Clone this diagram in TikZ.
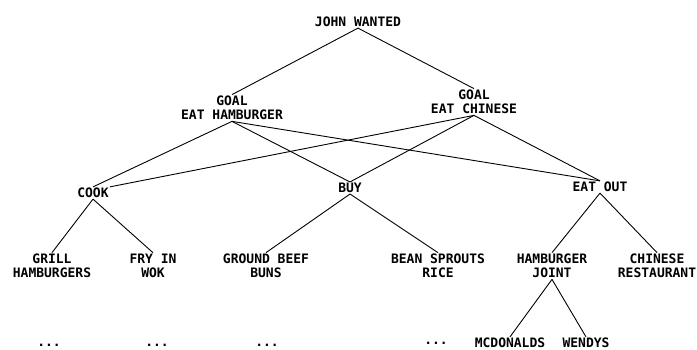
\documentclass[tikz,border=0pt]{standalone}
\usepackage{fontspec}
\setmonofont{DejaVu Sans Mono}
\usepackage{tikz}

\begin{document}
\begin{tikzpicture}[
  x=1pt, y=-1pt,
  lbl/.style={align=center, inner sep=1pt,
              font=\ttfamily\bfseries\fontsize{13}{14.5}\selectfont},
  link/.style={draw, line width=0.9pt}
]
\useasboundingbox (0,0) rectangle (697,350);
\node[lbl] (john) at (358,22) {JOHN WANTED};
\node[lbl] (hamb) at (232,108) {GOAL\\EAT HAMBURGER};
\node[lbl] (chin) at (474,102) {GOAL\\EAT CHINESE};
\node[lbl] (cook) at (93,193) {COOK};
\node[lbl] (buy) at (350,188) {BUY};
\node[lbl] (eatout) at (600,187) {EAT OUT};
\node[lbl] (grill) at (52,266) {GRILL\\HAMBURGERS};
\node[lbl] (wok) at (153,266) {FRY IN\\WOK};
\node[lbl] (beef) at (266,266) {GROUND BEEF\\BUNS};
\node[lbl] (sprouts) at (438,266) {BEAN SPROUTS\\RICE};
\node[lbl] (joint) at (552,266) {HAMBURGER\\JOINT};
\node[lbl] (rest) at (657,266) {CHINESE\\RESTAURANT};
\node[lbl] (dotsa) at (49,345) {...};
\node[lbl] (dotsb) at (157,345) {...};
\node[lbl] (dotsc) at (267,345) {...};
\node[lbl] (dotsd) at (436,343) {...};
\node[lbl] (mcd) at (510,343) {MCDONALDS};
\node[lbl] (wendys) at (586,343) {WENDYS};

\draw[link] (john.south) -- (hamb.north);
\draw[link] (john.south) -- (chin.north);
\draw[link] (hamb.south) -- (cook.north);
\draw[link] (hamb.south) -- (buy.north);
\draw[link] (hamb.south) -- (eatout.north);
\draw[link] (chin.south) -- (cook.north east);
\draw[link] (chin.south) -- (buy.north);
\draw[link] (chin.south) -- (eatout.north);
\draw[link] (cook.south) -- (grill.north);
\draw[link] (cook.south) -- (wok.north);
\draw[link] (buy.south) -- (beef.north);
\draw[link] (buy.south) -- (sprouts.north);
\draw[link] (eatout.south) -- (joint.north);
\draw[link] (eatout.south) -- (rest.north);
\draw[link] (joint.south) -- (mcd.north);
\draw[link] (joint.south) -- (wendys.north);
\end{tikzpicture}
\end{document}
